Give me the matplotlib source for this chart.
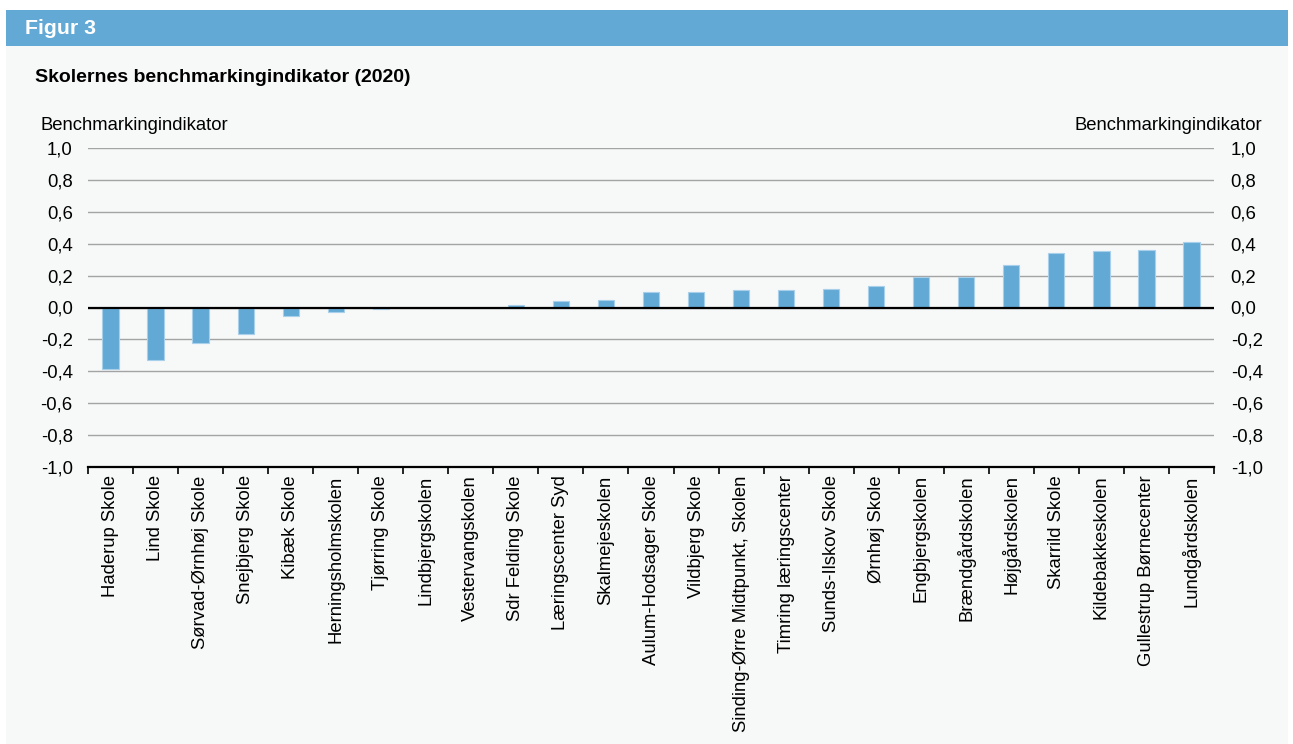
import matplotlib
matplotlib.use("Agg")
import matplotlib.pyplot as plt
from matplotlib.patches import Rectangle
from matplotlib.ticker import FixedLocator, FuncFormatter

plt.rcParams['font.family'] = ['Liberation Sans', 'DejaVu Sans']

schools = ["Haderup Skole", "Lind Skole", "Sørvad-Ørnhøj Skole", "Snejbjerg Skole",
           "Kibæk Skole", "Herningsholmskolen", "Tjørring Skole", "Lindbjergskolen",
           "Vestervangskolen", "Sdr Felding Skole", "Læringscenter Syd", "Skalmejeskolen",
           "Aulum-Hodsager Skole", "Vildbjerg Skole", "Sinding-Ørre Midtpunkt, Skolen",
           "Timring læringscenter", "Sunds-Ilskov Skole", "Ørnhøj Skole", "Engbjergskolen",
           "Brændgårdskolen", "Højgårdskolen", "Skarrild Skole", "Kildebakkeskolen",
           "Gullestrup Børnecenter", "Lundgårdskolen"]
values = [-0.386, -0.330, -0.220, -0.167, -0.054, -0.027, -0.012, -0.004, 0.0, 0.015,
          0.042, 0.050, 0.100, 0.100, 0.107, 0.108, 0.117, 0.134, 0.192, 0.192,
          0.267, 0.339, 0.353, 0.359, 0.409]
yticks = [-1.0, -0.8, -0.6, -0.4, -0.2, 0.0, 0.2, 0.4, 0.6, 0.8, 1.0]

W, H = 1293, 744
blue = "#63a9d5"
fig = plt.figure(figsize=(W / 100, H / 100), dpi=100)
fig.patch.set_facecolor("white")

# background panel and header strip
fig.patches.append(Rectangle((6 / W, 0), (1288 - 6) / W, (H - 46) / H,
                             transform=fig.transFigure, facecolor="#f7f8f8", edgecolor="none", zorder=-10))
fig.patches.append(Rectangle((6 / W, (H - 46) / H), (1288 - 6) / W, 36 / H,
                             transform=fig.transFigure, facecolor=blue, edgecolor="none", zorder=-10))
fig.text(25 / W, (H - 28) / H, "Figur 3", color="white", fontsize=15.3, fontweight="bold", va="center")
fig.text(35 / W, (H - 78) / H, "Skolernes benchmarkingindikator (2020)", fontsize=14,
         fontweight="bold", va="center")
fig.text(40 / W, (H - 125) / H, "Benchmarkingindikator", fontsize=13.3, va="center")
fig.text(1262 / W, (H - 125) / H, "Benchmarkingindikator", fontsize=13.3, va="center", ha="right")

x0, x1, ytop, ybot = 88, 1214, 148, 467
ax = fig.add_axes([x0 / W, (H - ybot) / H, (x1 - x0) / W, (ybot - ytop) / H])
ax.set_facecolor("none")

xs = list(range(len(schools)))
ax.bar(xs, values, width=0.36, color=blue, edgecolor="#a9d0ea", linewidth=0.8, zorder=3)

ax.set_xlim(-0.5, len(schools) - 0.5)
ax.set_ylim(-1.0, 1.0)
for y in yticks[1:]:
    ax.axhline(y, color="#a3a3a3", linewidth=1.0, zorder=1)
ax.axhline(0, color="black", linewidth=1.6, zorder=4)

fmt = FuncFormatter(lambda v, p: f"{v:.1f}".replace(".", ","))
ax.set_yticks(yticks)
ax.yaxis.set_major_formatter(fmt)
ax.tick_params(axis="y", length=0, labelsize=13.3, pad=11)

ax.set_xticks(xs)
ax.set_xticklabels(schools, rotation=90, fontsize=13.3)
ax.xaxis.set_minor_locator(FixedLocator([i - 0.5 for i in range(len(schools) + 1)]))
ax.tick_params(axis="x", which="major", length=0, pad=6)
ax.tick_params(axis="x", which="minor", length=5, width=1.2, direction="out")

for s in ["top", "left", "right"]:
    ax.spines[s].set_visible(False)
ax.spines["bottom"].set_linewidth(1.6)

ax2 = ax.twinx()
ax2.set_ylim(-1.0, 1.0)
ax2.set_yticks(yticks)
ax2.yaxis.set_major_formatter(fmt)
ax2.tick_params(axis="y", length=0, labelsize=13.3, pad=12)
for s in ["top", "left", "right", "bottom"]:
    ax2.spines[s].set_visible(False)

fig.savefig("out.png", dpi=100)
